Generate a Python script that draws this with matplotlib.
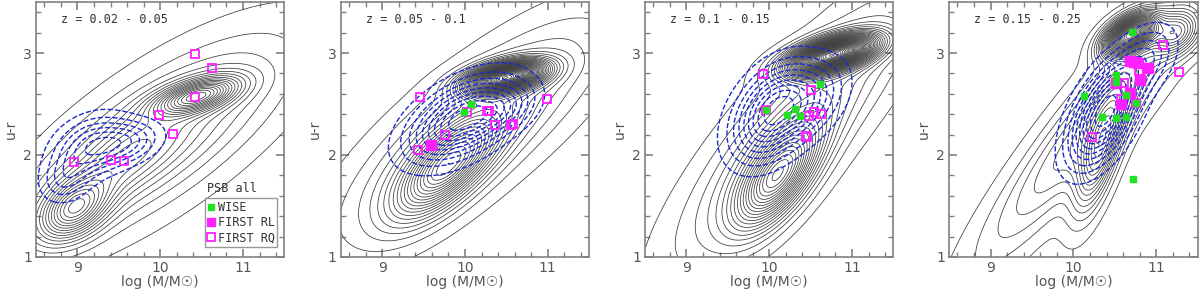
import matplotlib
matplotlib.use("Agg")
import matplotlib.pyplot as plt
from matplotlib.ticker import MultipleLocator
from matplotlib.lines import Line2D
import numpy as np

# redshift bins
z_labels = ["z = 0.02 - 0.05", "z = 0.05 - 0.1", "z = 0.1 - 0.15", "z = 0.15 - 0.25"]

# all-galaxy density model per bin: (x0, y0, sx, sy, rho, amp)
all_comps = [
    [(8.95, 1.46, 0.28, 0.20, 0.40, 0.58),
     (10.45, 2.58, 0.33, 0.12, 0.55, 0.70),
     (9.95, 2.15, 1.00, 0.62, 0.75, 0.33),
     (9.55, 1.95, 0.45, 0.30, 0.65, 0.20)],
    [(9.78, 1.88, 0.40, 0.32, 0.70, 0.75),
     (10.48, 2.76, 0.30, 0.10, 0.45, 1.80),
     (10.10, 2.25, 0.95, 0.65, 0.80, 0.33)],
    [(10.10, 1.78, 0.33, 0.33, 0.65, 0.80),
     (10.75, 2.98, 0.33, 0.12, 0.55, 2.00),
     (10.30, 2.25, 0.85, 0.78, 0.85, 0.33)],
    [(10.33, 2.05, 0.20, 0.40, 0.70, 0.55),
     (10.68, 3.18, 0.20, 0.13, 0.50, 1.50),
     (11.25, 3.20, 0.20, 0.15, 0.30, 0.45),
     (10.25, 2.35, 0.85, 0.85, 0.93, 0.33)],
]
all_step = [0.05, 0.05, 0.05, 0.05]

# PSB density model per bin
psb_comps = [
    [(9.15, 2.08, 0.30, 0.20, 0.30, 0.8),
     (9.60, 2.12, 0.28, 0.14, 0.30, 0.6),
     (8.85, 1.75, 0.20, 0.15, 0.20, 0.4)],
    [(9.97, 2.35, 0.42, 0.26, 0.50, 1.0),
     (10.50, 2.45, 0.25, 0.15, 0.40, 0.25)],
    [(10.05, 2.42, 0.32, 0.30, 0.40, 1.0),
     (10.55, 2.55, 0.28, 0.25, 0.40, 0.35)],
    [(10.38, 2.42, 0.28, 0.33, 0.55, 1.0),
     (10.90, 2.95, 0.24, 0.22, 0.40, 0.30)],
]
psb_levels = [np.arange(0.15, 1.0, 0.15), np.arange(0.1, 1.0, 0.1),
              np.arange(0.1, 1.0, 0.1), np.arange(0.1, 1.0, 0.09)]

# WISE (green filled)
wise_x = [[], [10.07, 9.99],
          [9.96, 10.21, 10.31, 10.37, 10.61],
          [10.71, 10.13, 10.51, 10.51, 10.63, 10.75, 10.34, 10.52, 10.63, 10.72]]
wise_y = [[], [2.50, 2.42],
          [2.44, 2.39, 2.45, 2.38, 2.70],
          [3.21, 2.58, 2.78, 2.72, 2.59, 2.51, 2.37, 2.36, 2.37, 1.76]]

# FIRST RL (magenta filled)
rl_x = [[], [9.59], [],
        [10.68, 10.73, 10.78, 10.90, 10.81, 10.68, 10.58, 10.52]]
rl_y = [[], [2.10], [],
        [2.92, 2.91, 2.90, 2.85, 2.74, 2.61, 2.50, 2.71]]

# FIRST RQ (magenta open)
rq_x = [[10.42, 10.62, 10.42, 9.98, 10.16, 8.96, 9.40, 9.56],
        [9.46, 10.99, 10.26, 10.29, 10.03, 10.36, 10.55, 10.58, 9.76, 9.43],
        [9.92, 10.50, 9.96, 10.48, 10.54, 10.63, 10.45, 10.46],
        [11.08, 11.28, 10.23, 10.61, 10.75, 10.79, 10.57]]
rq_y = [[2.99, 2.85, 2.57, 2.39, 2.21, 1.93, 1.95, 1.94],
        [2.57, 2.55, 2.43, 2.43, 2.42, 2.29, 2.29, 2.30, 2.20, 2.05],
        [2.79, 2.64, 2.44, 2.38, 2.42, 2.40, 2.19, 2.18],
        [3.08, 2.81, 2.18, 2.71, 2.51, 2.82, 2.55]]

GREEN = "#22e022"
MAGENTA = "#ff20ff"
GRAY = "#808080"
TXT = "#555555"
MONO = "DejaVu Sans Mono"


def density(comps, X, Y):
    Z = np.zeros_like(X)
    for x0, y0, sx, sy, rho, amp in comps:
        dx = (X - x0) / sx
        dy = (Y - y0) / sy
        q = (dx**2 - 2 * rho * dx * dy + dy**2) / (1 - rho**2)
        Z += amp * np.exp(-0.5 * q)
    return Z


xg = np.linspace(8.5, 11.5, 301)
yg = np.linspace(1.0, 3.5, 251)
X, Y = np.meshgrid(xg, yg)

fig = plt.figure(figsize=(12, 2.91), dpi=100)
lefts = [0.030, 0.284, 0.5375, 0.791]

for i in range(4):
    ax = fig.add_axes([lefts[i], 0.117, 0.207, 0.876])
    Z = density(all_comps[i], X, Y)
    lev = np.arange(all_step[i] * 0.6, Z.max(), all_step[i])
    ax.contour(X, Y, Z, levels=lev, colors="#3a3a3a", linewidths=0.55)
    P = density(psb_comps[i], X, Y)
    ax.contour(X, Y, P / P.max(), levels=psb_levels[i], colors="#1a2ad0",
               linewidths=1.0, linestyles="dashed")

    ax.plot(rq_x[i], rq_y[i], "s", mfc="none", mec=MAGENTA, mew=1.3, ms=6, zorder=5)
    ax.plot(rl_x[i], rl_y[i], "s", color=MAGENTA, ms=6.5, zorder=6)
    ax.plot(wise_x[i], wise_y[i], "s", color=GREEN, ms=4.5, zorder=7)

    ax.set_xlim(8.5, 11.5)
    ax.set_ylim(1.0, 3.5)
    ax.xaxis.set_major_locator(MultipleLocator(1))
    ax.xaxis.set_minor_locator(MultipleLocator(0.2))
    ax.yaxis.set_major_locator(MultipleLocator(1))
    ax.yaxis.set_minor_locator(MultipleLocator(0.2))
    ax.tick_params(which="both", direction="in", top=True, right=True,
                   color=GRAY, labelcolor=TXT, labelsize=10)
    ax.tick_params(which="major", length=6, width=1.2, pad=3)
    ax.tick_params(which="minor", length=3.5, width=1.0)
    for s in ax.spines.values():
        s.set_color(GRAY)
        s.set_linewidth(1.2)
    ax.set_xlabel("log (M/M\u2609)", color=TXT, fontsize=10, labelpad=0)
    ax.set_ylabel("u-r", color=TXT, fontsize=10, labelpad=4)
    ax.text(0.1, 0.93, z_labels[i], transform=ax.transAxes, color="#333333",
            fontsize=8.5, va="center", family=MONO)

    if i == 0:
        handles = [
            Line2D([], [], ls="none", marker="s", color=GREEN, ms=5),
            Line2D([], [], ls="none", marker="s", color=MAGENTA, ms=6),
            Line2D([], [], ls="none", marker="s", mfc="none", mec=MAGENTA, mew=1.3, ms=6),
        ]
        leg = ax.legend(handles, ["WISE", "FIRST RL", "FIRST RQ"],
                        loc="lower right", bbox_to_anchor=(0.97, 0.04),
                        prop={"family": MONO, "size": 8.5},
                        frameon=True, fancybox=False,
                        handlelength=0.6, handletextpad=0.3, borderpad=0.2,
                        labelspacing=0.2, borderaxespad=0)
        leg.get_frame().set_edgecolor(GRAY)
        leg.get_frame().set_linewidth(1.0)
        for t in leg.get_texts():
            t.set_color("#333333")
        ax.text(0.79, 0.27, "PSB all", transform=ax.transAxes, color="#333333",
                fontsize=8.5, ha="center", va="center", family=MONO)

fig.savefig("out.png", dpi=100)
